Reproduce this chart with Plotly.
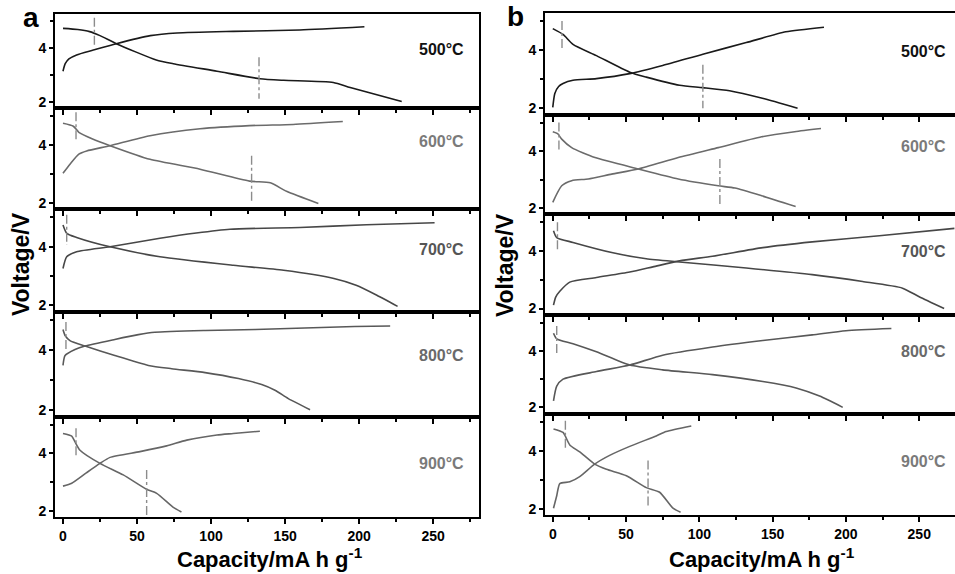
import plotly.graph_objects as go

W, H = 955, 574

TEMPS = ["500°C", "600°C", "700°C", "800°C", "900°C"]
LINE_COLORS = ["#1a1a1a", "#6b6b6b", "#474747", "#585858", "#666666"]
LABEL_COLORS = ["#111111", "#7a7a7a", "#555555", "#6a6a6a", "#7a7a7a"]
X_TICKS = [0, 50, 100, 150, 200, 250]
Y_TICKS = [2, 4]

# ---- panel a: (capacity, voltage) pairs ----
A500_CHARGE = [(0, 3.14), (1.5, 3.42), (4, 3.6), (9.2, 3.75), (20.5, 3.93), (36, 4.17), (59, 4.47),
               (77, 4.57), (115, 4.63), (160, 4.68), (203.6, 4.8)]
A500_DISCHARGE = [(0, 4.74), (10, 4.7), (18, 4.62), (25, 4.47), (36, 4.17), (63, 3.56), (74.5, 3.42),
                  (104, 3.14), (133, 2.86), (149, 2.8), (182.6, 2.72), (194, 2.53), (228.8, 2.01)]
A600_CHARGE = [(0, 3.02), (5, 3.35), (10.7, 3.68), (16, 3.79), (31.8, 3.97), (58.8, 4.31), (92.6, 4.55),
               (126, 4.66), (155.4, 4.7), (189, 4.8)]
A600_DISCHARGE = [(0, 4.74), (7, 4.64), (10.7, 4.43), (20, 4.2), (31.8, 3.97), (58.8, 3.5), (92.6, 3.16),
                  (126, 2.75), (140, 2.69), (151, 2.4), (172.5, 1.98)]
A700_CHARGE = [(0, 3.26), (2.5, 3.66), (9.2, 3.83), (31.8, 4.0), (65.5, 4.29), (90, 4.47), (112.8, 4.6),
               (160, 4.66), (205, 4.75), (251, 4.82)]
A700_DISCHARGE = [(0, 4.74), (2.5, 4.46), (9.2, 4.32), (31.8, 4.0), (65.5, 3.66), (115, 3.37), (149, 3.2),
                  (183, 2.92), (198, 2.69), (212, 2.35), (226, 1.97)]
A800_CHARGE = [(0, 3.49), (1.4, 3.82), (8.1, 4.02), (14.9, 4.14), (35, 4.36), (50.9, 4.52), (62, 4.6),
               (96, 4.66), (130, 4.69), (197, 4.79), (221, 4.81)]
A800_DISCHARGE = [(0, 4.69), (1.4, 4.49), (4.7, 4.32), (14.9, 4.14), (35, 3.82), (57.7, 3.49), (73.4, 3.38),
                  (96, 3.25), (118.5, 3.05), (134.2, 2.85), (143.2, 2.66), (152.2, 2.38), (166.9, 2.01)]
A900_CHARGE = [(0, 2.86), (5.9, 2.96), (16, 3.33), (25, 3.65), (31.8, 3.86), (52, 4.06), (70, 4.26),
               (83.6, 4.46), (104, 4.64), (115, 4.69), (133, 4.77)]
A900_DISCHARGE = [(0, 4.69), (5.9, 4.6), (8.1, 4.4), (11.5, 4.11), (25, 3.65), (40.7, 3.25), (56.4, 2.75),
                  (63.3, 2.61), (74.5, 2.12), (80, 1.96)]

# ---- panel b: (capacity, voltage) pairs ----
B500_CHARGE = [(0, 2.03), (1.4, 2.51), (4, 2.75), (7, 2.85), (13.8, 2.96), (29.8, 3.02), (52.5, 3.19),
               (75, 3.47), (102.4, 3.86), (132, 4.26), (159, 4.63), (185, 4.79)]
B500_DISCHARGE = [(0, 4.74), (7, 4.54), (13.8, 4.2), (29.8, 3.81), (52.5, 3.24), (63.8, 3.07), (86.5, 2.79),
                  (102.4, 2.71), (120.6, 2.6), (143, 2.34), (167, 2.0)]
B600_CHARGE = [(0, 2.2), (6.1, 2.78), (12.9, 2.96), (24.2, 3.02), (40.2, 3.19), (58.4, 3.37), (85.6, 3.77),
               (112.9, 4.12), (142.5, 4.5), (165, 4.68), (183, 4.79)]
B600_DISCHARGE = [(0, 4.68), (3.3, 4.61), (6.1, 4.42), (12.9, 4.12), (28.8, 3.77), (58.4, 3.37), (85.6, 3.02),
                  (112.9, 2.78), (124.3, 2.7), (142.5, 2.43), (165.7, 2.05)]
B700_CHARGE = [(0.5, 2.12), (2, 2.4), (4.8, 2.6), (11.6, 2.92), (29.8, 3.08), (52.5, 3.27), (68.3, 3.45),
               (86.5, 3.66), (109, 3.82), (143.3, 4.12), (177, 4.32), (222.8, 4.53), (274, 4.79)]
B700_DISCHARGE = [(0.5, 4.71), (2.7, 4.47), (13.8, 4.3), (41, 3.94), (63.8, 3.73), (86.5, 3.62),
                  (132, 3.41), (177, 3.18), (211.4, 2.94), (238.6, 2.71), (250, 2.41), (267, 2.0)]
B800_CHARGE = [(0.5, 2.23), (2.7, 2.75), (7, 3.0), (29.8, 3.27), (52.5, 3.5), (75, 3.85), (109, 4.14),
               (143.3, 4.37), (177, 4.57), (200, 4.72), (231, 4.8)]
B800_DISCHARGE = [(0.5, 4.63), (2.7, 4.43), (13.8, 4.26), (29.8, 3.97), (52.5, 3.5), (75, 3.33), (109, 3.16),
                  (143.3, 2.92), (166, 2.69), (182, 2.4), (197.8, 2.0)]
B900_CHARGE = [(0.5, 2.02), (2.7, 2.45), (4.8, 2.87), (11.6, 2.93), (18.4, 3.11), (28.6, 3.54), (38.8, 3.84),
               (52.5, 4.15), (70.6, 4.51), (77.4, 4.66), (94.5, 4.85)]
B900_DISCHARGE = [(0.5, 4.75), (7, 4.63), (11.6, 4.2), (18.4, 3.96), (28.6, 3.54), (36.6, 3.36), (50.2, 3.14),
                  (63.8, 2.73), (72.9, 2.57), (82, 2.02), (87.2, 1.88)]

# dash-dot guide lines: (capacity, top voltage, bottom voltage)
A_GUIDES = [[(21.2, 5.14, 4.11), (132.4, 3.66, 2.11)],
            [(8.8, 5.12, 4.1), (127.4, 3.62, 2.0)],
            [(2.5, 5.09, 4.06)],
            [(2, 4.94, 3.98)],
            [(8.8, 4.87, 3.88), (56.5, 3.42, 1.86)]]
B_GUIDES = [[(6.3, 5.0, 4.03), (102.4, 3.5, 2.0)],
            [(4.2, 5.0, 4.0), (114, 3.72, 2.14)],
            [(3.2, 5.0, 4.03)],
            [(2.7, 4.89, 3.93)],
            [(8.6, 5.03, 4.02), (65, 3.66, 2.08)]]

A_CURVES = [(A500_CHARGE, A500_DISCHARGE), (A600_CHARGE, A600_DISCHARGE), (A700_CHARGE, A700_DISCHARGE),
            (A800_CHARGE, A800_DISCHARGE), (A900_CHARGE, A900_DISCHARGE)]
B_CURVES = [(B500_CHARGE, B500_DISCHARGE), (B600_CHARGE, B600_DISCHARGE), (B700_CHARGE, B700_DISCHARGE),
            (B800_CHARGE, B800_DISCHARGE), (B900_CHARGE, B900_DISCHARGE)]

# ---- layout geometry (pixels) ----
A_X_PX = (55, 479)
B_X_PX = (545, 955)
A_ROWS_PX = [14, 108, 210, 313, 418, 519]
B_ROWS_PX = [13, 115, 215, 316, 415, 517]
A_XRANGE = [-5.4, 281]
B_XRANGE = [-5.3, 274.4]
Y_RANGE = [1.78, 5.28]

FONT = "Liberation Sans, Arial, sans-serif"


def px_x(p):
    return p / W


def px_y(p):
    return 1 - p / H


fig = go.Figure()
layout_axes = {}
annotations = []

panels = [
    (A_CURVES, A_GUIDES, A_X_PX, A_ROWS_PX, A_XRANGE, True,
     [(441, 50), (441, 142), (441, 250), (441, 357), (441, 465)]),
    (B_CURVES, B_GUIDES, B_X_PX, B_ROWS_PX, B_XRANGE, False,
     [(923, 52), (923, 147), (923, 252), (923, 353), (923, 463)]),
]

idx = 0
for curves, guides, xpx, rows, xrange_, right_border, label_pos in panels:
    for r in range(5):
        idx += 1
        xa = "x" if idx == 1 else f"x{idx}"
        ya = "y" if idx == 1 else f"y{idx}"
        xkey = "xaxis" if idx == 1 else f"xaxis{idx}"
        ykey = "yaxis" if idx == 1 else f"yaxis{idx}"
        bottom = r == 4
        layout_axes[xkey] = dict(
            domain=[px_x(xpx[0]), px_x(xpx[1])], anchor=ya, range=xrange_,
            showline=True, linecolor="black", linewidth=2, mirror=True,
            ticks="outside", ticklen=5, tickwidth=1.5, tickcolor="black",
            tickvals=X_TICKS, showticklabels=bottom, showgrid=False, zeroline=False,
            minor=dict(ticks="outside", tickvals=[25, 75, 125, 175, 225, 275], ticklen=3,
                       tickwidth=1.5, tickcolor="black"),
            tickfont=dict(family=FONT, size=14, color="black", weight="bold"),
        )
        layout_axes[ykey] = dict(
            domain=[px_y(rows[r + 1]), px_y(rows[r])], anchor=xa, range=Y_RANGE,
            showline=True, linecolor="black", linewidth=2, mirror=right_border,
            ticks="outside", ticklen=4, tickwidth=1.5, tickcolor="black",
            tickvals=Y_TICKS, showgrid=False, zeroline=False,
            minor=dict(ticks="outside", tickvals=[3, 5], ticklen=3, tickwidth=1.5, tickcolor="black"),
            tickfont=dict(family=FONT, size=14, color="black", weight="bold"),
        )
        charge, discharge = curves[r]
        for seg in (charge, discharge):
            fig.add_trace(go.Scatter(
                x=[p[0] for p in seg], y=[p[1] for p in seg], xaxis=xa, yaxis=ya,
                mode="lines", line=dict(color=LINE_COLORS[r], width=1.6, shape="spline", smoothing=0.6),
                showlegend=False, hoverinfo="skip"))
        for cap, top, bot in guides[r]:
            fig.add_trace(go.Scatter(
                x=[cap, cap], y=[top, bot], xaxis=xa, yaxis=ya, mode="lines",
                line=dict(color="#8c8c8c", width=1.4, dash="dashdot"),
                showlegend=False, hoverinfo="skip"))
        lx, ly = label_pos[r]
        annotations.append(dict(
            x=px_x(lx), y=px_y(ly), xref="paper", yref="paper", text=TEMPS[r], showarrow=False,
            xanchor="center", yanchor="middle",
            font=dict(family=FONT, size=16, color=LABEL_COLORS[r], weight="bold")))

# panel letters and axis titles
for text, x, y, size in [("a", 31, 18, 28), ("b", 515, 17, 28)]:
    annotations.append(dict(x=px_x(x), y=px_y(y), xref="paper", yref="paper", text=text, showarrow=False,
                            xanchor="center", yanchor="middle",
                            font=dict(family=FONT, size=size, color="black", weight="bold")))
for x, y in [(21, 265), (505, 266)]:
    annotations.append(dict(x=px_x(x), y=px_y(y), xref="paper", yref="paper", text="Voltage/V",
                            showarrow=False, textangle=-90, xanchor="center", yanchor="middle",
                            font=dict(family=FONT, size=23, color="black", weight="bold")))
for x, y in [(270, 560), (762, 560)]:
    annotations.append(dict(x=px_x(x), y=px_y(y), xref="paper", yref="paper",
                            text="Capacity/mA h g<sup>-1</sup>", showarrow=False,
                            xanchor="center", yanchor="middle",
                            font=dict(family=FONT, size=22, color="black", weight="bold")))

fig.update_layout(
    width=W, height=H, margin=dict(l=0, r=0, t=0, b=0),
    paper_bgcolor="white", plot_bgcolor="white",
    annotations=annotations, **layout_axes)

fig.write_html("out.html")
